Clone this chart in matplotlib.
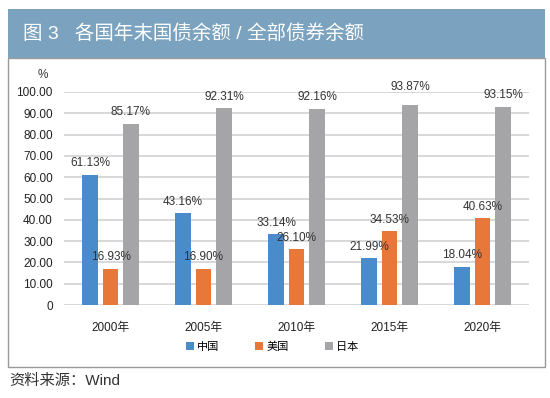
import matplotlib.pyplot as plt
from matplotlib.patches import Rectangle
from matplotlib.ticker import FuncFormatter
import numpy as np

plt.rcParams['font.family'] = ['Liberation Sans', 'Noto Sans CJK SC', 'DejaVu Sans']

years = ["2000年", "2005年", "2010年", "2015年", "2020年"]
china = [61.13, 43.16, 33.14, 21.99, 18.04]
usa = [16.93, 16.90, 26.10, 34.53, 40.63]
japan = [85.17, 92.31, 92.16, 93.87, 93.15]
series_names = ["中国", "美国", "日本"]
colors = ["#4A8BCB", "#E8783A", "#A5A5A7"]

W, H = 550, 398
fig = plt.figure(figsize=(5.5, 3.98), dpi=100)

# title bar and frame
fig.patches.append(Rectangle((8 / W, 1 - 57.5 / H), 537 / W, 48.5 / H,
                             transform=fig.transFigure, facecolor="#7BA3BF",
                             edgecolor="none", zorder=0))
fig.patches.append(Rectangle((8 / W, 1 - 367 / H), 537 / W, (367 - 57.5) / H,
                             transform=fig.transFigure, fill=False,
                             edgecolor="#9A9A9A", lw=1, zorder=0))
fig.text(23 / W, 1 - 34 / H, "图 3   各国年末国债余额 / 全部债券余额",
         color="white", fontsize=14, va="center", ha="left")
fig.text(9 / W, 1 - 381 / H, "资料来源：Wind", color="#333333",
         fontsize=11, va="center", ha="left")

ax = fig.add_axes([64 / W, 1 - 305 / H, 465 / W, 213 / H])
x = np.arange(len(years))
width = 0.17
offset = 0.22
label_nudge = {(2, 3): 5}  # lift the 93.87% label a bit, as in the source

for i, (vals, name, c) in enumerate(zip([china, usa, japan], series_names, colors)):
    bars = ax.bar(x + (i - 1) * offset, vals, width, color=c, label=name, zorder=3)
    for j, (b, v) in enumerate(zip(bars, vals)):
        ax.annotate(f"{v:.2f}%", (b.get_x() + b.get_width() / 2, v),
                    xytext=(0, 4 + label_nudge.get((i, j), 0)),
                    textcoords="offset points", ha="center", va="bottom",
                    fontsize=8.5, color="#333333", zorder=4,
                    annotation_clip=False)

ax.set_xlim(-0.5, 4.5)
ax.set_ylim(0, 100)
ax.set_yticks(np.arange(0, 101, 10))
ax.yaxis.set_major_formatter(FuncFormatter(lambda v, p: "0" if v == 0 else f"{v:.2f}"))
ax.set_xticks(x)
ax.set_xticklabels(years)
ax.tick_params(axis="both", length=0, labelsize=8.5, colors="#222222")
ax.tick_params(axis="y", pad=8)
ax.tick_params(axis="x", pad=12)
ax.yaxis.grid(True, color="#D6D6D6", lw=1.3, zorder=0)
ax.set_axisbelow(True)
for s in ax.spines.values():
    s.set_visible(False)
ax.text(-0.045, 1.08, "%", transform=ax.transAxes, fontsize=8.5,
        color="#333333", ha="center", va="center")

ax.legend(loc="center", bbox_to_anchor=(272 / W, 1 - 347 / H),
          bbox_transform=fig.transFigure, ncol=3, frameon=False,
          fontsize=8, handlelength=0.75, handleheight=0.75,
          handletextpad=0.3, columnspacing=3.2)

fig.savefig("out.png", dpi=100)
